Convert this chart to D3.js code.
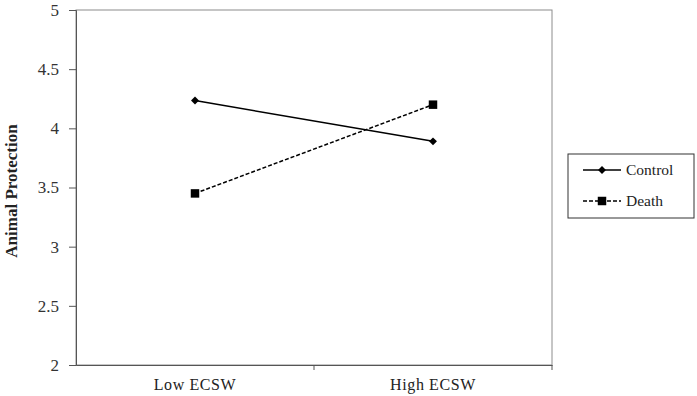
<!DOCTYPE html>
<html>
<head>
<meta charset="utf-8">
<script src="https://cdn.jsdelivr.net/npm/d3@7"></script>
<style>
  body { margin: 0; background: #fff; }
  text { font-family: "Liberation Serif", "Times New Roman", serif; }
</style>
</head>
<body>
<div id="container"></div>
<script>
/* DATA */
const categories = ["Low ECSW", "High ECSW"];
const controlValues = [4.235, 3.89];
const deathValues = [3.45, 4.2];
const yTicks = [2, 2.5, 3, 3.5, 4, 4.5, 5];
const seriesNames = ["Control", "Death"];

/* CONSTANTS */
const W = 697, H = 396;
const margin = {top: 10, right: 145, bottom: 31, left: 76};
const width = W - margin.left - margin.right,
      height = H - margin.top - margin.bottom;

const svg = d3.select("#container")
  .append("svg")
  .attr("width", W)
  .attr("height", H)
  .style("background-color", "#fff");

const g = svg.append("g")
  .attr("transform", `translate(${margin.left},${margin.top})`);

// SCALES
const xScale = d3.scaleBand().domain(categories).range([0, width]);
const yScale = d3.scaleLinear().domain([2, 5]).range([height, 0]);

// frame
g.append("rect")
  .attr("width", width).attr("height", height)
  .attr("fill", "none").attr("stroke", "#8c8c8c").attr("stroke-width", 1);

// y axis
const yAxis = g.append("g")
  .call(d3.axisLeft(yScale).tickValues(yTicks).tickSize(7).tickPadding(10).tickFormat(d3.format("")));
yAxis.select(".domain").attr("stroke", "#555");
yAxis.selectAll(".tick line").attr("stroke", "#555");
yAxis.selectAll("text").attr("font-size", 17).attr("fill", "#333")
  .style("font-family", "'Liberation Serif', serif");

// x axis
const xAxis = g.append("g")
  .attr("transform", `translate(0,${height})`)
  .call(d3.axisBottom(xScale).tickSize(0).tickPadding(14));
xAxis.select(".domain").attr("stroke", "#555");
xAxis.selectAll("text").attr("font-size", 16).attr("fill", "#222")
  .attr("letter-spacing", "0.6px")
  .style("font-family", "'Liberation Serif', serif");
// tick marks at band edges
g.append("g").selectAll("line")
  .data(categories.slice(1).concat(["end"]))
  .join("line")
  .attr("x1", (d, i) => i < categories.length - 1 ? xScale(d) : width)
  .attr("x2", (d, i) => i < categories.length - 1 ? xScale(d) : width)
  .attr("y1", height).attr("y2", height + 5)
  .attr("stroke", "#555");

// y label
svg.append("text")
  .attr("transform", `translate(17,191) rotate(-90)`)
  .attr("text-anchor", "middle")
  .attr("font-size", 17)
  .attr("font-weight", "bold")
  .attr("fill", "#222")
  .text("Animal Protection");

const cx = d => xScale(d) + xScale.bandwidth() / 2;
const line = d3.line().x(d => cx(d.cat)).y(d => yScale(d.v));
const ctrl = categories.map((c, i) => ({cat: c, v: controlValues[i]}));
const death = categories.map((c, i) => ({cat: c, v: deathValues[i]}));

g.append("path").datum(ctrl)
  .attr("fill", "none").attr("stroke", "#000").attr("stroke-width", 1.5)
  .attr("d", line);
g.append("path").datum(death)
  .attr("fill", "none").attr("stroke", "#000").attr("stroke-width", 1.5)
  .attr("stroke-dasharray", "4,2")
  .attr("d", line);

const diamond = d3.symbol().type(d3.symbolDiamond2).size(40);
const square = d3.symbol().type(d3.symbolSquare).size(72);

g.selectAll(".ctrl").data(ctrl).join("path")
  .attr("transform", d => `translate(${cx(d.cat)},${yScale(d.v)})`)
  .attr("d", diamond).attr("fill", "#000");
g.selectAll(".death").data(death).join("path")
  .attr("transform", d => `translate(${cx(d.cat)},${yScale(d.v)})`)
  .attr("d", square).attr("fill", "#000");

// LEGEND
const lg = svg.append("g").attr("transform", "translate(568,154)");
lg.append("rect").attr("width", 126).attr("height", 64)
  .attr("fill", "#fff").attr("stroke", "#333").attr("stroke-width", 1);
seriesNames.forEach((name, i) => {
  const y = 16 + i * 31;
  lg.append("line").attr("x1", 15).attr("x2", 53).attr("y1", y).attr("y2", y)
    .attr("stroke", "#000").attr("stroke-width", 1.5)
    .attr("stroke-dasharray", i === 1 ? "4,2" : null);
  lg.append("path").attr("transform", `translate(34,${y})`)
    .attr("d", i === 0 ? diamond : square).attr("fill", "#000");
  lg.append("text").attr("x", 58).attr("y", y).attr("dy", "0.35em")
    .attr("font-size", 15.5).attr("fill", "#222").text(name);
});
</script>
</body>
</html>
